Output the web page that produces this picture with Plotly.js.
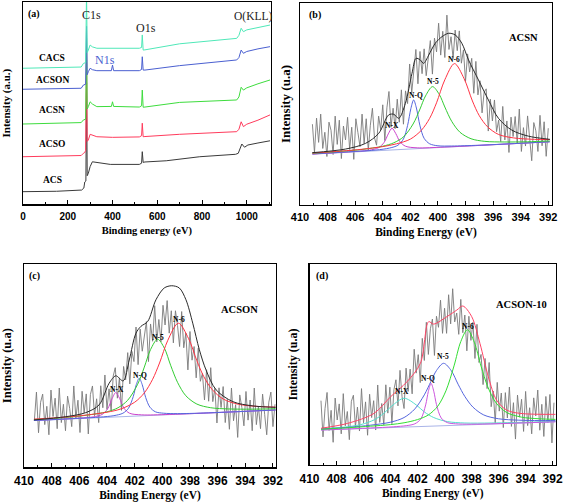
<!DOCTYPE html>
<html><head><meta charset="utf-8">
<script src="https://cdn.plot.ly/plotly-3.0.1.min.js"></script>
<style>html,body{margin:0;padding:0;background:#fff}</style>
</head><body><div id="chart" style="width:567px;height:503px"></div>
<script>
// ---------- Panel (a): survey spectra ----------
const ACS_E  = [0,150,262,272,276,281,284,287,292,300,310,330,390,520,530,533,537,545,640,790,950,962,970,978,990,1005,1050,1104];
const ACS_I  = [6.1,6.3,6.9,7.9,10.9,11.4,60,14,15.2,18.5,20.9,20.5,19.6,19.6,20.2,25.9,20.6,20.8,21.4,23.4,24.6,25.1,27,29.7,28.1,29.2,30.2,31.3];
const ACSO_E = [0,150,260,270,276,280,284,287,292,300,310,330,400,520,530,533,537,545,700,850,955,965,975,985,1000,1050,1104];
const ACSO_I = [23.4,23.6,24.0,25.1,25.5,26.5,75,31,31.7,34.5,34.2,33.3,33.0,33.2,33.8,40.0,33.3,33.4,34.5,35.3,35.8,37,40.7,38.3,39.5,41.5,44.1];
const ACSN_E = [0,150,260,270,280,284,287,292,300,310,330,395,400,405,520,530,533,537,545,700,955,965,975,985,1000,1050,1104];
const ACSN_I = [39.6,39.8,40.3,41.6,42,82,47,48.2,50.6,49.5,48.2,48.3,50.6,48.3,48.0,48.6,56.4,47.9,48.0,50.3,51.5,53,57.8,56.4,57.5,59.5,61.4];
const ACSON_E = [0,150,260,270,280,284,287,292,300,310,330,395,400,405,520,530,533,537,545,700,955,965,975,985,1000,1050,1104];
const ACSON_I = [56.8,57.0,57.3,58.9,59.3,88,64,65.5,67.2,66.5,66.0,66.0,68.8,66.0,66.0,66.6,72.9,66.3,66.3,68.5,71.3,72.5,76.2,74.6,75.5,76.8,77.9];
const CACS_E = [0,150,260,270,280,284,287,292,300,310,330,520,530,533,537,545,700,955,965,975,985,1000,1050,1104];
const CACS_I = [67.2,67.4,67.8,69.6,70,105,75,76.2,78.7,77.8,77.1,77.1,77.5,83.7,76.2,76.3,79.3,82.0,83.5,87.0,85.3,86.2,87.5,88.6];
const surveyNames = ['ACS','ACSO','ACSN','ACSON','CACS'];

// ---------- Panel (b): ACSN N1s ----------
const b_dataStart = 409.1, b_dataStep = -0.15;
const b_data = [40,26,43,31,45,28,36,24,41,37,25,44,30,42,23,39.1,32.2,43.4,27.5,38.5,22.6,42.7,35.8,28.9,45,30.4,42.7,27.1,39.5,47.9,33.3,29.6,44,37.3,49.6,31.9,48.1,56.2,38.5,47.9,37.8,52.4,41,57,40,56.5,50.2,69.8,55.6,68.5,77,60,76,65,77.3,64,73,81.4,64.8,82.6,75.8,90,74.2,86,73,94,77,83.3,72.5,86.6,76.4,86.2,70.2,76.8,61.2,74.8,65.9,72.6,55.3,71.1,54.5,61.5,45.6,55.8,57.5,36.6,52.4,41.6,52,36.3,42,31.4,48.8,32.2,41.6,26,43.5,33.9,43.8,30.6,47.5,26.5,38.3,29.2,44.1,31,21.9,40.8,36.7,26.5,44.4,29.3,41.2,24.1,38];
const b_base_E = [409.1,391.9], b_base_I = [25.2,31.3];
const b_NX_E = [409.1,406.5,405,404.3,403.9,403.6,403.33,403.06,402.75,402.35,401.5,399.5,391.9];
const b_NX_I = [25.2,26.3,27.1,28.4,31.0,35.2,38.0,35.4,31.3,29.1,28.3,28.7,31.3];
const b_NQ_E = [409.1,406,404.5,403.5,402.9,402.5,402.2,401.96,401.76,401.56,401.3,401.0,400.6,400,399,397,391.9];
const b_NQ_I = [25.3,26.5,27.2,28.2,29.6,32.7,39.4,47.8,52.0,48.0,39.2,33.0,30.3,29.3,29.2,29.6,31.3];
const b_N5_E = [409.1,407,405.5,404,403.2,402.5,401.8,401.3,400.9,400.39,399.9,399.5,399,398.4,397.6,396.6,395.2,393.5,391.9];
const b_N5_I = [25.6,26.6,27.5,29.1,30.8,33.7,40.1,47.5,54.0,58.6,54.7,48.5,41.4,36.0,32.8,31.5,31.2,31.3,31.7];
const b_N6_E = [409.1,407,405.5,404,403,402,401.2,400.6,400.1,399.5,398.8,398.1,397.5,397,396.4,395.6,394.5,393,391.9];
const b_N6_I = [25.7,26.7,27.6,28.9,30.3,32.6,37.0,42.9,50.6,62.0,70.0,62.5,51.5,44.2,38.7,34.9,33.2,32.5,32.4];
const b_env_E = [409.11,406.70,405.25,404.29,403.57,403.2,402.84,402.36,401.88,401.59,401.28,401.04,400.67,400.19,399.71,399.23,398.75,398.27,397.78,397.06,396.34,395.61,394.65,393.45,391.88];
const b_env_I = [25.9,27.7,30.5,35.5,44.6,44.9,42.9,50.3,65.2,72.6,71.8,70.1,74.2,80.1,83.3,85.0,84.2,80.1,71.8,61.9,52.0,42.9,37.1,34.1,32.5];

// ---------- Panel (c): ACSON N1s ----------
const c_dataStart = 409.25, c_dataStep = -0.15;
const c_data = [23,37,17,32,36,21,30,16,38,25,34,19,39,22,31,18,35,29,20,40,24,33,17.1,37.4,26.8,36.1,16.4,35.8,40,25.4,33.7,22,40.1,29.3,45.4,28.5,38.6,27.8,44.9,49,34,44,28,49.6,43,56.4,41,57,52,69,50.5,68,57.1,64.4,71.7,52,70.5,62,79.5,61.7,72.7,61.7,79.7,70,82,66,77,61.2,77,69.8,59.4,76.6,58.8,66,47.9,66.8,52.7,59.4,44,58.6,42.3,46.2,33.1,48,32.5,49,32.3,38.8,21.8,39.1,29.4,39.7,22,33.4,18.7,39,22.9,30.8,14.7,35.6,29.5,20.4,37.3,23.2,33.1,18,39,21,30,19,36,26,16,32,37,20,31];
const c_base_E = [409.28,391.81], c_base_I = [23.0,28.2];
const c_NX_E = [409.28,406.5,405,404.35,403.95,403.63,403.36,403.09,402.77,402.37,401.5,399.5,391.81];
const c_NX_I = [23.1,24.0,24.8,26.0,28.8,33.8,36.8,33.9,29.1,26.6,25.8,26.0,28.2];
const c_NQ_E = [409.28,406,404.5,403.5,402.85,402.45,402.1,401.88,401.67,401.46,401.2,400.9,400.5,399.9,398.9,397,391.81];
const c_NQ_I = [23.0,24.1,24.7,25.4,26.6,29.0,34.8,40.7,43.8,40.8,34.3,29.6,27.3,26.6,26.4,26.7,28.2];
const c_N5_E = [409.28,407,405.5,404,403.2,402.5,401.8,401.3,400.85,400.34,399.85,399.4,398.9,398.3,397.5,396.5,395.2,393.5,391.81];
const c_N5_I = [23.5,24.5,25.6,27.3,29.3,33.0,40.6,49.3,57.9,63.0,58.6,50.2,41.8,35.2,31.1,29.3,28.7,28.6,28.8];
const c_N6_E = [409.28,407,405.5,404,403,402,401.3,400.7,400.2,399.6,398.84,398.1,397.5,397,396.4,395.6,394.5,393,391.81];
const c_N6_I = [23.7,24.7,25.7,27.1,28.7,32.0,36.6,43.3,51.3,62.5,70.9,63.3,52.4,44.6,38.3,33.6,31.0,29.9,29.6];
const c_env_E = [409.28,406.98,405.53,404.57,403.84,403.36,402.83,402.39,401.91,401.55,401.06,400.46,399.86,399.32,398.77,398.29,397.80,397.32,396.84,396.11,394.90,393.45,391.81];
const c_env_I = [23.3,24.9,26.9,30.7,41.4,45.0,42.5,52.8,65.9,69.3,71.7,82.4,88.2,89.3,88.2,82.4,70.9,57.8,47.9,38.1,32.3,30.2,29.5];

// ---------- Panel (d): ACSON-10 N1s ----------
const d_dataStart = 409.15, d_dataStep = -0.15;
const d_data = [32,14,28.1,36.1,17.2,27.2,11.3,33.3,22.4,30.4,15.5,35.5,19.5,26.6,12.6,31.7,34.7,18.8,28.8,16.9,38,21,31.4,14.8,35.2,23.6,32,17.4,39.8,21.2,30.6,20,39.9,25.8,38.7,20.6,37.5,42.4,29.4,47.1,34.1,28.1,48.2,36.6,47.7,35.4,57.6,45.7,54.9,41,63,52,71,55,67.8,72.6,54.5,74,68.5,82,65.5,78,65.5,84.7,70.2,87.7,71.2,75.6,65,82.4,65.8,74.6,56.8,74,62,71,53,70,51,55,40,53,38,51,29,36.8,21,41.1,26.8,35.8,18.6,36,23.4,38.8,19.2,31,12.9,34.8,23.8,32.7,16.7,36.6,19.6,28.5,15.5,33.4,24.4,37.3,17.3,30.2,14.2,34.1,21.1,35.1,11,31];
const d_base_E = [409.14,391.79], d_base_I = [17.4,21.5];
const d_NX_E = [409.14,407.5,406.2,405.2,404.5,403.9,403.0,402.1,401.5,400.8,399.8,398.5,396.5,391.79];
const d_NX_I = [18.0,18.8,20.1,22.5,25.7,29.4,33.2,29.9,26.4,23.6,21.6,20.9,20.9,21.7];
const d_NQ_E = [409.14,405.5,403.8,402.8,402.2,401.75,401.4,401.2,401.0,400.8,400.6,400.25,399.8,399.2,398,391.79];
const d_NQ_I = [17.4,18.4,19.0,19.6,20.5,23.0,29.9,36.6,40.6,36.7,30.1,23.4,21.1,20.5,20.3,21.5];
const d_N5_E = [409.14,407,405.5,404,403,402.2,401.5,401.0,400.6,400.07,399.5,399.0,398.5,397.9,397.1,396,394.5,393,391.79];
const d_N5_I = [17.9,18.8,19.8,21.3,23.6,27.9,34.9,41.7,47.0,50.6,46.9,40.2,34.1,28.8,24.9,23.0,22.3,22.1,22.2];
const d_N6_E = [409.14,407,405.5,404,403,402,401.2,400.5,399.9,399.3,398.8,398.31,397.8,397.3,396.8,396.2,395.4,394.3,393,391.79];
const d_N6_I = [17.8,18.6,19.3,20.1,21.0,22.6,24.9,29.3,36.9,49.3,61.4,67.3,61.1,49.2,38.9,31.0,26.1,23.8,23.0,22.7];
const d_env_E = [409.14,407.18,405.22,403.99,402.77,401.79,401.18,400.81,399.83,399.09,398.65,397.99,397.38,396.76,396.15,395.42,394.44,391.79];
const d_env_I = [18.3,20.7,25.7,34.0,41.5,50.6,71.3,70.1,73.8,77.1,79.1,73.8,60.5,43.9,32.3,27.4,25.7,25.2];

const peakNames = ['N-X','N-Q','N-5','N-6'];

// ---------- styling ----------
const SERIF = 'Liberation Serif, Times New Roman, serif';
const SANS = 'Liberation Sans, Arial, sans-serif';
const GRAY = '#7a7a7a';

function ln(x, y, xa, ya, color, w, shape) {
  return {type:'scatter', mode:'lines', x:x, y:y, xaxis:xa, yaxis:ya,
    line:{color:color, width:w||1, shape:shape||'linear', smoothing:0.9}, hoverinfo:'skip'};
}
function noisy(start, step, y, xa, ya) {
  return {type:'scatter', mode:'lines', x0:start, dx:step, y:y, xaxis:xa, yaxis:ya,
    line:{color:GRAY, width:0.9}, hoverinfo:'skip'};
}

const traces = [
  ln(ACS_E, ACS_I, 'x','y', '#3a3a3a', 1),
  ln(ACSO_E, ACSO_I, 'x','y', '#ff3b5c', 1),
  ln(ACSN_E, ACSN_I, 'x','y', '#3ddc3d', 1),
  ln(ACSON_E, ACSON_I, 'x','y', '#4a5fd0', 1),
  ln(CACS_E, CACS_I, 'x','y', '#4fe8b8', 1),

  noisy(b_dataStart, b_dataStep, b_data, 'x2','y2'),
  ln(b_base_E, b_base_I, 'x2','y2', '#a9b4e8', 1),
  ln(b_NX_E, b_NX_I, 'x2','y2', '#cc44cc', 1, 'spline'),
  ln(b_NQ_E, b_NQ_I, 'x2','y2', '#5566dd', 1, 'spline'),
  ln(b_N5_E, b_N5_I, 'x2','y2', '#33cc33', 1, 'spline'),
  ln(b_N6_E, b_N6_I, 'x2','y2', '#ff3344', 1, 'spline'),
  ln(b_env_E, b_env_I, 'x2','y2', '#2a2a2a', 1, 'spline'),

  noisy(c_dataStart, c_dataStep, c_data, 'x3','y3'),
  ln(c_base_E, c_base_I, 'x3','y3', '#a9b4e8', 1),
  ln(c_NX_E, c_NX_I, 'x3','y3', '#cc44cc', 1, 'spline'),
  ln(c_NQ_E, c_NQ_I, 'x3','y3', '#5566dd', 1, 'spline'),
  ln(c_N5_E, c_N5_I, 'x3','y3', '#33cc33', 1, 'spline'),
  ln(c_N6_E, c_N6_I, 'x3','y3', '#ff3344', 1, 'spline'),
  ln(c_env_E, c_env_I, 'x3','y3', '#2a2a2a', 1, 'spline'),

  noisy(d_dataStart, d_dataStep, d_data, 'x4','y4'),
  ln(d_base_E, d_base_I, 'x4','y4', '#a9b4e8', 1),
  ln(d_NX_E, d_NX_I, 'x4','y4', '#55ddcc', 1, 'spline'),
  ln(d_NQ_E, d_NQ_I, 'x4','y4', '#cc55dd', 1, 'spline'),
  ln(d_N5_E, d_N5_I, 'x4','y4', '#5566dd', 1, 'spline'),
  ln(d_N6_E, d_N6_I, 'x4','y4', '#33dd33', 1, 'spline'),
  ln(d_env_E, d_env_I, 'x4','y4', '#ff4466', 1, 'spline')
];

function xax(domain, anchor, range, dtick, minor, tsize, title, titleSize, standoff) {
  return {domain:domain, anchor:anchor, range:range, dtick:dtick, tick0:0,
    ticks:'inside', ticklen:4, tickwidth:1, tickcolor:'#000',
    minor:{dtick:minor, ticks:'inside', ticklen:2, tickwidth:1, tickcolor:'#000', showgrid:false},
    showline:true, mirror:true, linecolor:'#000', linewidth:1.3,
    showgrid:false, zeroline:false, ticklabelstandoff:2,
    tickfont:{family:SANS, size:tsize, weight:'bold', color:'#000'},
    title:{text:title, standoff:standoff, font:{family:SERIF, size:titleSize, weight:'bold', color:'#000'}}};
}
function yax(domain, anchor, range, title, titleSize, standoff) {
  return {domain:domain, anchor:anchor, range:range, showticklabels:false, ticks:'',
    showline:true, mirror:true, linecolor:'#000', linewidth:1.3,
    showgrid:false, zeroline:false,
    title:{text:title, standoff:standoff, font:{family:SERIF, size:titleSize, weight:'bold', color:'#000'}}};
}

function ann(xref, yref, x, y, text, size, bold, color, xanchor) {
  return {xref:xref, yref:yref, x:x, y:y, text:text, showarrow:false,
    xanchor:xanchor||'center', yanchor:'middle',
    font:{family:SERIF, size:size, weight:bold?'bold':'normal', color:color||'#000'}};
}

const annotations = [
  ann('x','y', 13, 94, '(a)', 10, true, '#000', 'left'),
  ann('x','y', 308, 93.6, 'C1s', 12, false, '#222'),
  ann('x','y', 550, 87.1, 'O1s', 12, false, '#222'),
  ann('x','y', 1028, 92.6, 'O(KLL)', 11.5, false, '#222'),
  ann('x','y', 367, 71.3, 'N1s', 12, false, '#4a5fd0'),
  ann('x','y', 130, 72.3, surveyNames[4], 9.5, true),
  ann('x','y', 134, 61.4, surveyNames[3], 9.5, true),
  ann('x','y', 130, 46.5, surveyNames[2], 9.5, true),
  ann('x','y', 130, 29.7, surveyNames[1], 9.5, true),
  ann('x','y', 130, 11.9, surveyNames[0], 9.5, true),

  ann('x2','y2', 409.5, 94, '(b)', 10, true, '#000', 'left'),
  ann('x2','y2', 393.8, 83, 'ACSN', 10.5, true),
  ann('x2','y2', 403.33, 39.5, peakNames[0], 7.5, true),
  ann('x2','y2', 401.6, 54, peakNames[1], 7.5, true),
  ann('x2','y2', 400.39, 61, peakNames[2], 7.5, true),
  ann('x2','y2', 398.8, 72.1, peakNames[3], 7.5, true),

  ann('x3','y3', 409.8, 94.2, '(c)', 10, true, '#000', 'left'),
  ann('x3','y3', 394.4, 77.5, 'ACSON', 10.5, true),
  ann('x3','y3', 403.25, 38.1, peakNames[0], 7.5, true),
  ann('x3','y3', 401.6, 45, peakNames[1], 7.5, true),
  ann('x3','y3', 400.29, 63.9, peakNames[2], 7.5, true),
  ann('x3','y3', 398.79, 72.6, peakNames[3], 7.5, true),

  ann('x4','y4', 409.7, 94, '(d)', 10, true, '#000', 'left'),
  ann('x4','y4', 394.3, 79.6, 'ACSON-10', 10.5, true),
  ann('x4','y4', 403.13, 36.5, peakNames[0], 7.5, true),
  ann('x4','y4', 401.2, 43.1, peakNames[1], 7.5, true),
  ann('x4','y4', 400.09, 53.9, peakNames[2], 7.5, true),
  ann('x4','y4', 398.24, 68.8, peakNames[3], 7.5, true)
];

const layout = {
  width:567, height:503, margin:{l:0, r:0, t:0, b:0},
  paper_bgcolor:'#fff', plot_bgcolor:'#fff', showlegend:false,
  xaxis:  xax([0.04056,0.47743], 'y',  [0,1107], 200, 100, 10, 'Binding energy (eV)', 10.5, 6),
  yaxis:  yax([0.59384,0.99602], 'x',  [-0.15,100], 'Intensity (a.u.)', 11, 9),
  xaxis2: xax([0.52910,0.97354], 'y2', [410,391.73], 2, 1, 11, 'Binding Energy (eV)', 11.5, 5),
  yaxis2: yax([0.59245,0.99404], 'x2', [0,100], 'Intensity (u.a)', 13, 5),
  xaxis3: xax([0.04233,0.48677], 'y3', [410,391.78], 2, 1, 12, 'Binding Energy (eV)', 11.5, 4),
  yaxis3: yax([0.07097,0.47515], 'x3', [0,100], 'Intensity (u.a)', 12.5, 8),
  xaxis4: xax([0.54586,0.98060], 'y4', [410,391.75], 2, 1, 12, 'Binding Energy (eV)', 11.5, 4),
  yaxis4: yax([0.07555,0.47515], 'x4', [0,100], 'Intensity (u.a)', 12, 8),
  annotations: annotations
};

Plotly.newPlot('chart', traces, layout, {displayModeBar:false, staticPlot:true});
</script></body></html>
